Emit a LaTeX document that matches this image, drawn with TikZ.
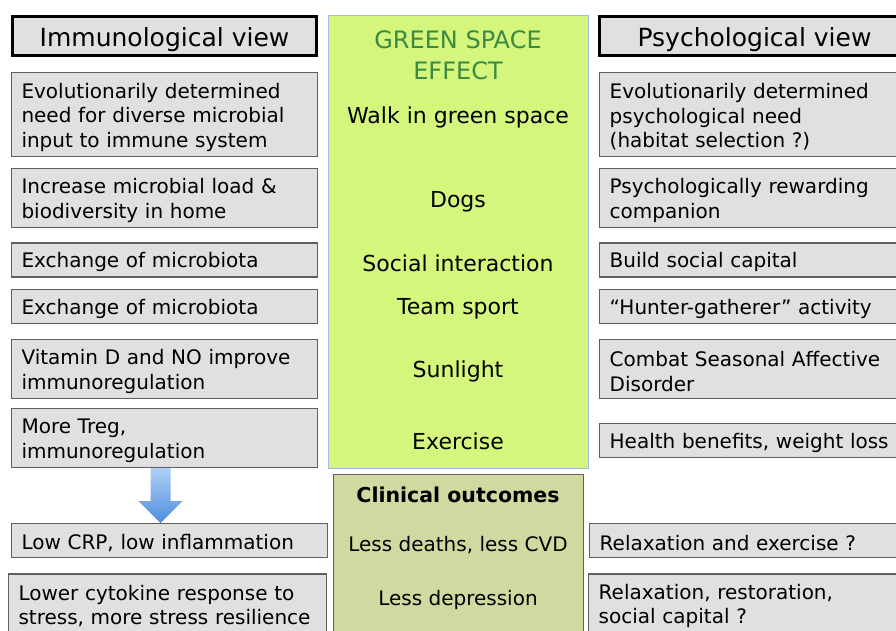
\documentclass[tikz,border=0pt]{standalone}
\usepackage{fontspec}
\setmainfont{DejaVu Sans}
\usetikzlibrary{positioning}

\definecolor{cellgrey}{RGB}{224,224,224}
\definecolor{cellline}{RGB}{95,95,95}
\definecolor{grass}{RGB}{212,246,124}
\definecolor{grassedge}{RGB}{160,190,215}
\definecolor{grassink}{RGB}{58,138,66}
\definecolor{clinicfill}{RGB}{208,218,160}
\definecolor{arrowhi}{RGB}{175,208,245}
\definecolor{arrowlo}{RGB}{78,142,222}

\tikzset{
  view/.style={draw=black, line width=3pt, fill=cellgrey, minimum width=304pt,
    minimum height=39pt, text height=24pt, text depth=2pt,
    font=\fontsize{25}{30}\selectfont},
  cell/.style={draw=cellline, line width=1.2pt, fill=cellgrey, text width=#1,
    align=left, inner xsep=10pt, inner ysep=2pt,
    execute at begin node={\rule{0pt}{20pt}},
    font=\fontsize{20}{24.5}\selectfont},
  cell/.default=286pt,
  lines/.style={minimum height=#1*25pt+9pt},
  effect/.style={yshift=-3pt, font=\fontsize{22}{26}\selectfont},
  outcome/.style={font=\fontsize{20}{24}\selectfont},
}

\begin{document}
\begin{tikzpicture}[x=1pt, y=-1pt]
  \useasboundingbox (0,0) rectangle (896,631);

  % middle panels
  \node[draw=grassedge, line width=0.8pt, fill=grass, minimum width=260pt,
    minimum height=453pt] (green) at (458,241.5) {};
  \node[draw=cellline, line width=1pt, fill=clinicfill, minimum width=250pt,
    minimum height=200pt, below=6pt of green] (clinic) {};

  % immunological side
  \node[view] (immhead) at (164.5,36) {Immunological view};
  \node[cell, lines=3, below=15pt of immhead] (imm1)
    {Evolutionarily determined\\need for diverse microbial\\input to immune system};
  \node[cell, lines=2, below=11pt of imm1] (imm2)
    {Increase microbial load \&\\biodiversity in home};
  \node[cell, lines=1, below=14pt of imm2] (imm3) {Exchange of microbiota};
  \node[cell, lines=1, below=11pt of imm3] (imm4) {Exchange of microbiota};
  \node[cell, lines=2, below=15pt of imm4] (imm5)
    {Vitamin D and NO improve\\immunoregulation};
  \node[cell, lines=2, below=9pt of imm5] (imm6)
    {More Treg,\\immunoregulation};
  \node[cell=296pt, lines=1, below=55pt of imm6.south west, anchor=north west] (imm7)
    {Low CRP, low inflammation};
  \node[cell=298pt, lines=2, below=15pt of imm7.south west,
    anchor=north west, xshift=-3pt] (imm8)
    {Lower cytokine response to\\stress, more stress resilience};

  \shade[top color=arrowhi, bottom color=arrowlo] (imm6.south) ++(-14,0)
    -- ++(0,33) -- ++(-12,0) -- ++(22,22) -- ++(22,-22) -- ++(-12,0)
    -- ++(0,-33) -- cycle;

  % psychological side
  \node[view, minimum width=310pt, right=280pt of immhead] (psyhead) {Psychological view};
  \node[cell=290pt, lines=3, right=281pt of imm1] (psy1)
    {Evolutionarily determined\\psychological need\\(habitat selection ?)};
  \node[cell=290pt, lines=2, right=281pt of imm2] (psy2)
    {Psychologically rewarding\\companion};
  \node[cell=290pt, lines=1, right=281pt of imm3] (psy3) {Build social capital};
  \node[cell=290pt, lines=1, right=281pt of imm4] (psy4) {``Hunter-gatherer'' activity};
  \node[cell=290pt, lines=2, right=281pt of imm5] (psy5)
    {Combat Seasonal Affective\\Disorder};
  \node[cell=290pt, lines=1, right=281pt of imm6, yshift=-2pt] (psy6)
    {Health benefits, weight loss};
  \node[cell=290pt, lines=1, right=261pt of imm7] (psy7) {Relaxation and exercise ?};
  \node[cell=290pt, lines=2, right=261pt of imm8] (psy8)
    {Relaxation, restoration,\\social capital ?};

  % green space effect
  \node[text=grassink, align=center, font=\fontsize{24}{31}\selectfont] (gstitle)
    at (458,55) {GREEN SPACE\\EFFECT};
  \node[effect] (walk) at (green.center |- imm1) {Walk in green space};
  \node[effect] (dogs) at (green.center |- imm2) {Dogs};
  \node[effect] (social) at (green.center |- imm3) {Social interaction};
  \node[effect] (team) at (green.center |- imm4) {Team sport};
  \node[effect] (sun) at (green.center |- imm5) {Sunlight};
  \node[effect] (exercise) at (green.center |- imm6) {Exercise};

  % clinical outcomes
  \node[outcome, font=\fontsize{20.5}{24}\selectfont\bfseries, below=9pt of clinic.north]
    (clintitle) {Clinical outcomes};
  \node[outcome] (deaths) at (458,545) {Less deaths, less CVD};
  \node[outcome] (depression) at (458,600) {Less depression};
\end{tikzpicture}
\end{document}
